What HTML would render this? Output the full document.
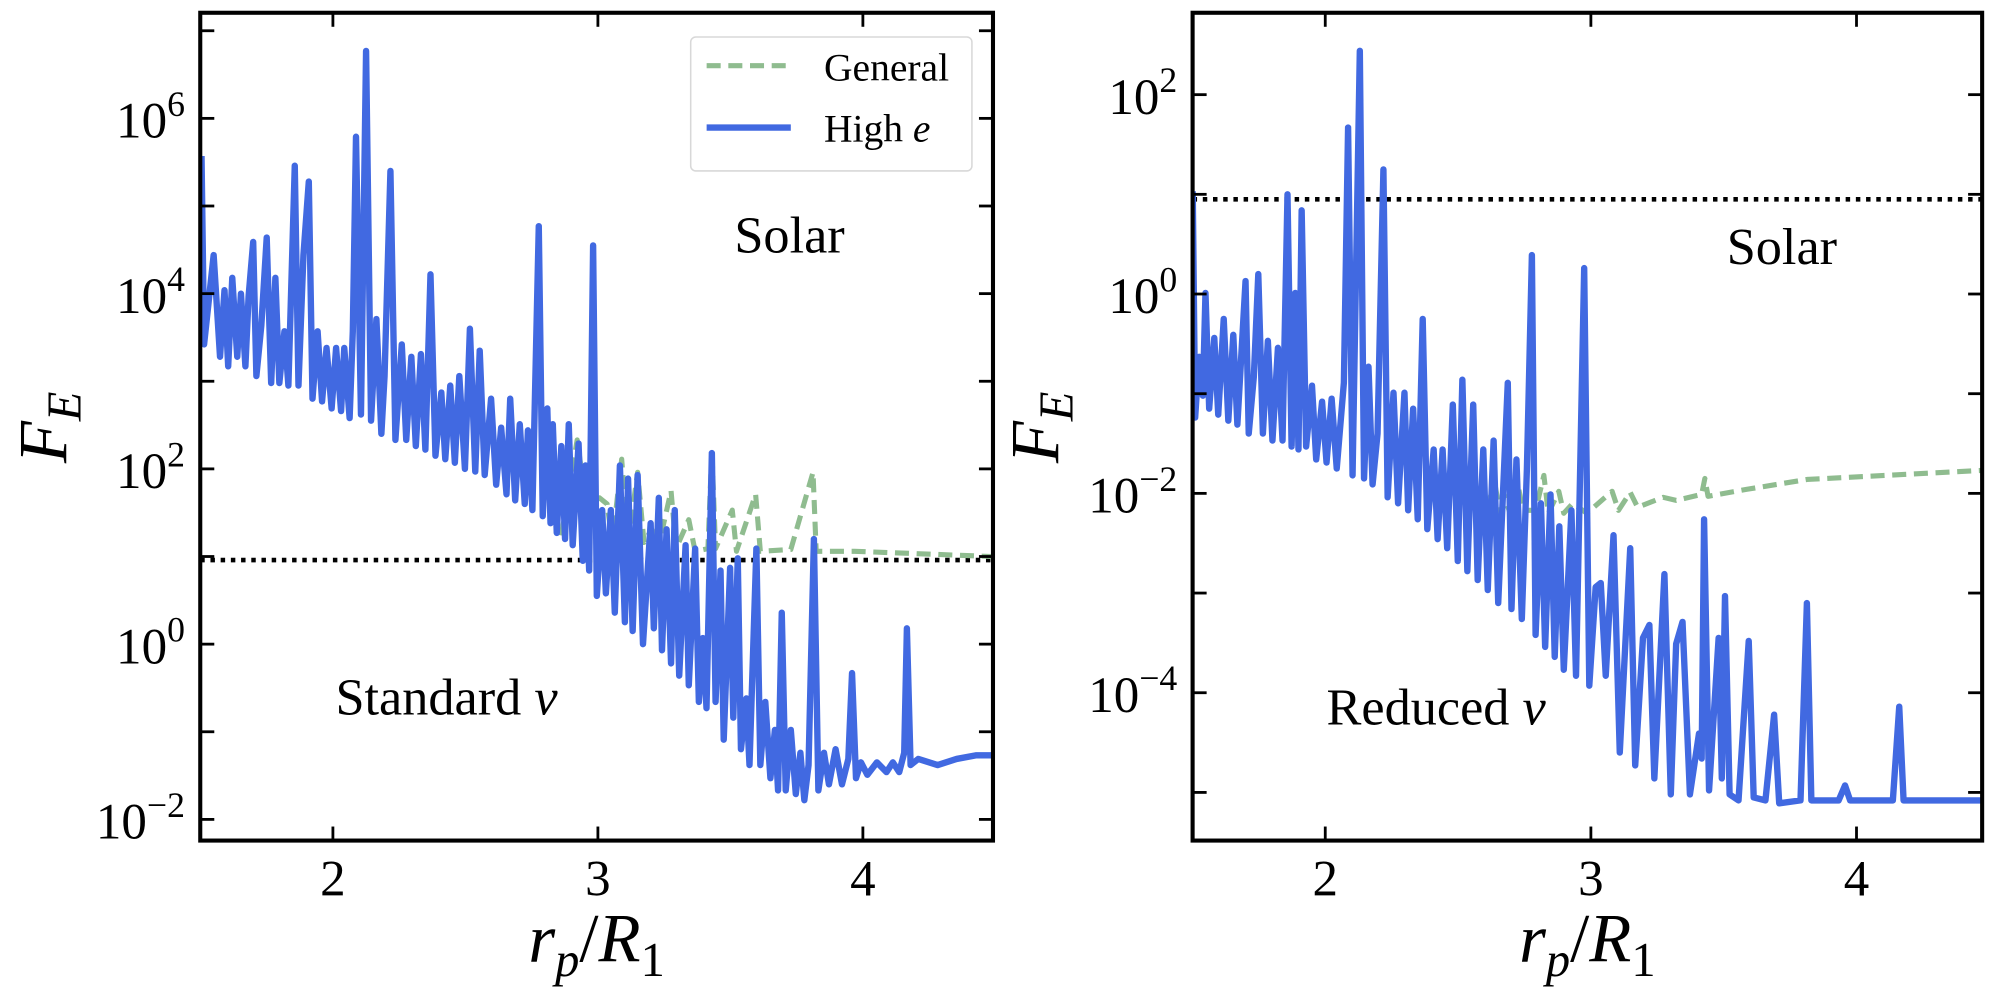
<!DOCTYPE html>
<html><head><meta charset="utf-8"><style>
html,body{margin:0;padding:0;background:#fff;}
svg{display:block;font-family:"Liberation Serif","DejaVu Serif",serif;}
</style></head><body>
<svg id="fig" width="2000" height="993" viewBox="0 0 1568 778.5" xmlns="http://www.w3.org/2000/svg">
<defs>
<clipPath id="clipL"><rect x="157" y="10" width="621.5" height="649"/></clipPath>
<clipPath id="clipR"><rect x="935" y="10" width="619" height="649"/></clipPath>
</defs>
<g id="panelL"></g>
<g id="panelR"></g>
</svg>
<script>
// ---------- Data (x = r_p/R_1, values are log10 F_E) ----------
const leftHighX = [1.504,1.514,1.550,1.574,1.591,1.605,1.620,1.639,1.653,1.670,1.682,1.699,1.711,1.730,1.750,1.767,1.783,1.798,1.817,1.832,1.856,1.870,1.889,1.909,1.923,1.942,1.959,1.976,1.995,2.012,2.031,2.043,2.063,2.075,2.087,2.106,2.125,2.144,2.164,2.183,2.195,2.217,2.236,2.260,2.277,2.296,2.313,2.332,2.349,2.368,2.387,2.409,2.424,2.443,2.460,2.477,2.498,2.517,2.537,2.554,2.573,2.597,2.616,2.635,2.655,2.669,2.688,2.705,2.724,2.736,2.753,2.777,2.792,2.809,2.821,2.830,2.845,2.862,2.876,2.890,2.905,2.927,2.943,2.953,2.967,2.982,2.996,3.016,3.030,3.049,3.064,3.083,3.102,3.114,3.131,3.150,3.170,3.199,3.211,3.230,3.242,3.259,3.276,3.290,3.307,3.331,3.343,3.367,3.381,3.396,3.410,3.430,3.444,3.463,3.475,3.499,3.511,3.528,3.540,3.560,3.572,3.598,3.613,3.632,3.651,3.668,3.680,3.694,3.709,3.728,3.747,3.764,3.779,3.795,3.815,3.832,3.853,3.872,3.897,3.921,3.945,3.959,3.974,3.993,4.017,4.053,4.089,4.113,4.137,4.156,4.166,4.180,4.209,4.282,4.354,4.426,4.486];
const leftHighLog = [5.57,3.42,4.44,3.28,4.04,3.17,4.18,3.28,4.00,3.17,3.97,4.59,3.06,3.64,4.64,2.98,4.18,2.98,3.57,2.95,5.46,2.95,4.44,5.28,2.80,3.57,2.77,3.38,2.69,3.38,2.66,3.38,2.58,3.57,5.79,2.62,6.77,2.55,3.71,2.40,3.06,5.40,2.33,3.42,2.33,3.28,2.26,3.31,2.22,4.22,2.15,2.87,2.11,2.95,2.07,3.06,2.00,3.60,1.97,3.35,1.93,2.80,1.82,2.47,1.71,2.80,1.64,2.51,1.60,2.44,1.53,4.77,1.46,2.69,1.38,2.51,1.27,2.26,1.20,2.51,1.13,2.29,0.95,2.04,0.84,4.55,0.55,1.53,0.58,1.53,0.36,2.04,0.25,1.89,0.15,1.93,0.00,1.38,0.18,1.67,-0.07,1.31,-0.22,1.53,-0.36,1.13,-0.47,1.09,-0.66,0.07,-0.73,2.18,-0.66,0.84,-1.09,0.87,-0.84,0.98,-1.20,-0.62,-1.38,1.09,-1.38,-0.66,-1.53,-0.98,-1.67,0.36,-1.67,-0.98,-1.71,-1.24,-1.78,-1.38,1.20,-1.67,-1.24,-1.60,-1.20,-1.60,-1.31,-0.33,-1.53,-1.35,-1.49,-1.35,-1.46,-1.35,-1.46,-1.24,0.18,-1.38,-1.31,-1.38,-1.31,-1.27,-1.27];
const leftGenX = [2.862,2.922,2.970,3.006,3.035,3.054,3.090,3.114,3.150,3.174,3.203,3.227,3.276,3.295,3.343,3.367,3.415,3.430,3.444,3.507,3.523,3.595,3.613,3.728,3.812,3.824,3.968,4.486];
const leftGenLog = [1.24,2.33,1.31,1.67,1.60,1.16,2.11,1.16,1.96,1.16,1.31,1.09,1.75,1.09,1.42,1.06,1.09,2.22,1.09,1.53,1.06,1.71,1.06,1.08,1.96,1.06,1.06,1.00];
const leftSolarLog = 0.96;

const rightHighX = [1.501,1.510,1.525,1.539,1.549,1.563,1.582,1.597,1.618,1.635,1.654,1.669,1.700,1.712,1.731,1.748,1.765,1.784,1.801,1.822,1.839,1.858,1.873,1.887,1.899,1.911,1.928,1.950,1.966,1.988,2.005,2.024,2.043,2.070,2.086,2.103,2.130,2.146,2.163,2.178,2.197,2.219,2.235,2.257,2.274,2.298,2.312,2.331,2.348,2.367,2.384,2.408,2.423,2.442,2.459,2.480,2.499,2.516,2.535,2.557,2.574,2.595,2.612,2.634,2.651,2.687,2.701,2.720,2.740,2.759,2.778,2.792,2.812,2.828,2.848,2.864,2.881,2.898,2.927,2.944,2.975,2.994,3.018,3.037,3.056,3.085,3.109,3.148,3.167,3.196,3.220,3.239,3.277,3.301,3.321,3.345,3.373,3.407,3.417,3.426,3.445,3.481,3.493,3.505,3.522,3.556,3.594,3.613,3.657,3.690,3.709,3.789,3.813,3.830,3.933,3.957,3.976,4.137,4.161,4.177,4.473];
const rightHighLog = [1.03,-1.24,-0.63,-1.02,0.01,-1.15,-0.44,-1.21,-0.25,-1.27,-0.41,-1.31,0.13,-1.40,-0.83,0.20,-1.40,-0.47,-1.47,-0.54,-1.47,1.00,-1.53,0.01,-1.56,0.84,-1.53,-0.92,-1.66,-1.08,-1.69,-1.05,-1.75,-0.89,1.67,-1.82,2.44,-1.85,-0.73,-1.91,-1.40,1.25,-2.04,-0.99,-2.10,-0.99,-2.17,-1.15,-2.26,-0.25,-2.36,-1.56,-2.46,-1.56,-2.55,-1.11,-2.68,-0.86,-2.78,-1.11,-2.87,-1.56,-2.97,-1.47,-3.10,-0.89,-3.16,-1.66,-3.26,-1.75,0.39,-3.42,-2.10,-3.54,-2.01,-3.64,-2.33,-3.77,-2.17,-3.83,0.26,-3.93,-2.94,-2.90,-3.83,-2.42,-4.60,-2.55,-4.73,-3.45,-3.32,-4.86,-2.81,-5.02,-3.51,-3.29,-5.02,-4.41,-4.66,-2.26,-4.98,-3.45,-4.86,-3.03,-5.02,-5.08,-3.48,-5.05,-5.08,-4.22,-5.11,-5.08,-3.10,-5.08,-5.08,-4.93,-5.08,-5.08,-4.14,-5.08,-5.08];
const rightGenX = [2.612,2.639,2.660,2.672,2.696,2.725,2.744,2.792,2.823,2.840,2.879,2.898,2.932,2.985,3.080,3.104,3.148,3.176,3.272,3.321,3.417,3.429,3.441,3.585,3.813,4.473];
const rightGenLog = [-2.10,-1.91,-2.23,-2.01,-2.20,-1.91,-2.17,-2.17,-1.82,-2.20,-1.98,-2.20,-2.10,-2.20,-1.98,-2.17,-1.99,-2.14,-2.04,-2.07,-2.01,-1.85,-2.03,-1.96,-1.86,-1.77];
const rightSolarLog = 0.95;

const xTicks = [2,3,4];
const xTickLabels = ["2","3","4"];
const leftYMajor = [-2,0,2,4,6];
const leftYMinor = [-1,1,3,5,7];
const rightYMajor = [-4,-2,0,2];
const rightYMinor = [-5,-3,-1,1];

const NS = "http://www.w3.org/2000/svg";
function mk(tag, attrs, parent){ const e=document.createElementNS(NS,tag); for(const k in attrs) e.setAttribute(k,attrs[k]); parent.appendChild(e); return e; }

function drawPanel(g, cfg){
  const X = v => cfg.x0 + (v-2)*cfg.xs;
  const Y = L => cfg.y0 - L*cfg.ys;
  const L = cfg.left, R = cfg.right, T = 10, B = 659;
  const clip = mk('g',{'clip-path':'url(#'+cfg.clip+')'},g);
  const sl = mk('line',{x1:L,x2:R,y1:Y(cfg.solar),y2:Y(cfg.solar),stroke:'#000','stroke-width':3.6,'stroke-dasharray':'3.5,4.5'},clip);
  
  
  let d=''; cfg.genX.forEach((x,i)=>{ d += (i?'L':'M')+X(x).toFixed(1)+','+Y(cfg.genLog[i]).toFixed(1); });
  const gp = mk('path',{d:d,fill:'none',stroke:'#8fbc8f','stroke-width':4,'stroke-dasharray':'11,6','stroke-linejoin':'round'},clip);
  
  
  d=''; cfg.hiX.forEach((x,i)=>{ d += (i?'L':'M')+X(x).toFixed(1)+','+Y(cfg.hiLog[i]).toFixed(1); });
  const hp = mk('path',{d:d,fill:'none',stroke:'#4169e1','stroke-width':5,'stroke-linejoin':'round'},clip);
  
  
  const fr = mk('rect',{x:L,y:T,width:R-L,height:B-T,fill:'none',stroke:'#000','stroke-width':3.2},g);
  
  
  xTicks.forEach((v,i)=>{
    mk('line',{x1:X(v),x2:X(v),y1:B,y2:B-11,stroke:'#000','stroke-width':2.2},g);
    mk('line',{x1:X(v),x2:X(v),y1:T,y2:T+11,stroke:'#000','stroke-width':2.2},g);
    const t = mk('text',{x:X(v),y:702,'font-size':40,'text-anchor':'middle'},g);
    t.textContent = xTickLabels[i];
    
    
  });
  cfg.major.concat(cfg.minor).forEach(v=>{
    const y=Y(v); if(y<T||y>B) return;
    mk('line',{x1:L,x2:L+11,y1:y,y2:y,stroke:'#000','stroke-width':2.2},g);
    mk('line',{x1:R,x2:R-11,y1:y,y2:y,stroke:'#000','stroke-width':2.2},g);
  });
  cfg.major.forEach(v=>{
    const y=Y(v);
    const t = mk('text',{x:L-12,y:y+15,'font-size':40,'text-anchor':'end'},g);
    
    
    const a = mk('tspan',{},t); a.textContent='10';
    const b = mk('tspan',{dy:-17,'font-size':28}, t); b.textContent = (v<0?'\u2212':'')+Math.abs(v);
  });
  const yl = mk('text',{transform:'translate('+cfg.ylx+',335) rotate(-90)','font-size':54,'font-style':'italic','text-anchor':'middle'},g);
  
  
  const f1=mk('tspan',{},yl); f1.textContent='F';
  const f2=mk('tspan',{dy:11,'font-size':38},yl); f2.textContent='E';
  const xl = mk('text',{x:(L+R)/2,y:754,'font-size':54,'text-anchor':'middle'},g);
  
  
  const a1=mk('tspan',{'font-style':'italic'},xl); a1.textContent='r';
  const a2=mk('tspan',{'font-style':'italic','font-size':38,dy:11},xl); a2.textContent='p';
  const a3=mk('tspan',{dy:-11},xl); a3.textContent='/';
  const a4=mk('tspan',{'font-style':'italic'},xl); a4.textContent='R';
  const a5=mk('tspan',{'font-size':38,dy:11},xl); a5.textContent='1';
  const s = mk('text',{x:cfg.solarTx,y:cfg.solarTy,'font-size':41,'text-anchor':'middle'},g);
  s.textContent='Solar';
  
  
  const n = mk('text',{x:cfg.nuTx,y:cfg.nuTy,'font-size':41},g);
  
  
  const n1=mk('tspan',{},n); n1.textContent=cfg.nuText+' ';
  const n2=mk('tspan',{'font-style':'italic'},n); n2.textContent='\u03bd';
}

drawPanel(document.getElementById('panelL'),{x0:261,xs:207.75,y0:505,ys:68.7,left:157,right:778.5,clip:'clipL',
  solar:leftSolarLog,genX:leftGenX,genLog:leftGenLog,hiX:leftHighX,hiLog:leftHighLog,major:leftYMajor,minor:leftYMinor,
  ylx:52,solarTx:619,solarTy:198,nuTx:263,nuTy:560,nuText:'Standard'});
drawPanel(document.getElementById('panelR'),{x0:1039,xs:208.25,y0:230.5,ys:78.15,left:935,right:1554,clip:'clipR',
  solar:rightSolarLog,genX:rightGenX,genLog:rightGenLog,hiX:rightHighX,hiLog:rightHighLog,major:rightYMajor,minor:rightYMinor,
  ylx:830,solarTx:1397,solarTy:207,nuTx:1040,nuTy:568,nuText:'Reduced'});

const pl = document.getElementById('panelL');
const lg = mk('g',{},pl);


mk('rect',{x:541.5,y:29,width:220.5,height:105,rx:4,fill:'#fff',stroke:'#d8d8d8','stroke-width':1.2},lg);
const e1 = mk('line',{x1:554,x2:620,y1:51.5,y2:51.5,stroke:'#8fbc8f','stroke-width':4,'stroke-dasharray':'11,6'},lg);


const t1 = mk('text',{x:646,y:63,'font-size':31},lg); t1.textContent='General';


const e2 = mk('line',{x1:554,x2:620,y1:100,y2:100,stroke:'#4169e1','stroke-width':5},lg);


const t2 = mk('text',{x:646,y:111,'font-size':31},lg);


const t2a = mk('tspan',{},t2); t2a.textContent='High ';
const t2b = mk('tspan',{'font-style':'italic'},t2); t2b.textContent='e';
</script>
</body></html>
